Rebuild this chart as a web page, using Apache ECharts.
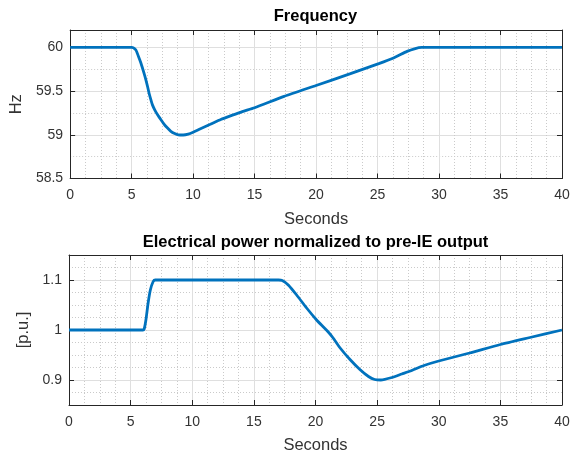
<!DOCTYPE html>
<html>
<head>
<meta charset="utf-8">
<script src="https://cdn.jsdelivr.net/npm/echarts@6/dist/echarts.min.js"></script>
<style>
  html, body { margin: 0; padding: 0; background: #fff; }
  #chart { width: 580px; height: 456px; }
</style>
</head>
<body>
<div id="chart"></div>
<script>
// frequency trace, top subplot (seconds / Hz)
const freqTime = [0, 5.0, 5.15, 5.35, 5.55, 5.76, 6.0, 6.16, 6.3, 6.43, 6.57, 6.7, 6.9, 7.11, 7.4, 7.65, 7.9, 8.19, 8.5, 8.8, 9.2, 9.6, 10.0, 10.6, 11.4, 12.25, 13.2, 14.0, 15.0, 17.4, 20.0, 22.8, 25.1, 26.3, 27.4, 28.0, 28.6, 40];
const freqHz = [60, 60, 59.995, 59.97, 59.9, 59.82, 59.71, 59.63, 59.55, 59.47, 59.4, 59.34, 59.28, 59.23, 59.17, 59.12, 59.08, 59.04, 59.015, 59.0, 58.998, 59.008, 59.03, 59.07, 59.12, 59.175, 59.225, 59.265, 59.31, 59.44, 59.565, 59.7, 59.815, 59.88, 59.955, 59.985, 60, 60];

// electrical power trace, bottom subplot (seconds / p.u.)
const powerTime = [0, 6.0, 6.1, 6.24, 6.42, 6.6, 6.83, 7.0, 17.0, 17.3, 17.79, 18.47, 19.28, 20.09, 20.6, 21.0, 21.4, 22.0, 22.8, 23.6, 24.3, 24.8, 25.3, 26.2, 27.0, 27.7, 28.8, 30.0, 32.5, 35.0, 37.4, 40];
const powerPu = [1, 1, 1.002, 1.02, 1.054, 1.08, 1.097, 1.1, 1.1, 1.099, 1.09, 1.07, 1.044, 1.02, 1.007, 0.997, 0.985, 0.964, 0.941, 0.921, 0.907, 0.901, 0.9, 0.905, 0.912, 0.918, 0.929, 0.938, 0.954, 0.971, 0.985, 1.0];

// tick labels
const freqTicks = [58.5, 59, 59.5, 60];
const powerTicks = [0.9, 1, 1.1];

const LINE = '#0072BD';
const AX = '#262626';
const LABEL = '#333333';
const GRID = '#dfdfdf';
const MINOR = '#cacaca';
const FONT = 'Liberation Sans, Arial, Helvetica, sans-serif';

const chart = echarts.init(document.getElementById('chart'));

function xMain(gridIndex) {
  return {
    type: 'value', gridIndex: gridIndex, position: 'bottom',
    min: 0, max: 40, interval: 5,
    name: 'Seconds', nameLocation: 'middle', nameGap: 32,
    nameTextStyle: { fontFamily: FONT, fontSize: 16.5, color: LABEL },
    axisLine: { show: true, lineStyle: { color: AX, width: 1 } },
    axisTick: { show: true, inside: true, length: 5, lineStyle: { color: AX } },
    axisLabel: { fontFamily: FONT, fontSize: 14, color: LABEL, margin: 10 },
    splitLine: { show: true, lineStyle: { color: GRID, width: 1 } },
    minorTick: { show: false, splitNumber: 4 },
    minorSplitLine: { show: true, lineStyle: { color: MINOR, width: 1, type: [1, 2] } },
    z: 1
  };
}

function xTop(gridIndex) {
  return {
    type: 'value', gridIndex: gridIndex, position: 'top',
    min: 0, max: 40, interval: 5,
    axisLine: { show: true, lineStyle: { color: AX, width: 1 } },
    axisTick: { show: true, inside: true, length: 5, lineStyle: { color: AX } },
    axisLabel: { show: false },
    splitLine: { show: false },
    z: 1
  };
}

function yMinor(gridIndex, min, max, step) {
  return {
    type: 'value', gridIndex: gridIndex, position: 'left',
    min: min, max: max, interval: step,
    axisLine: { show: false }, axisTick: { show: false }, axisLabel: { show: false },
    splitLine: { show: true, lineStyle: { color: MINOR, width: 1, type: [1, 2] } },
    z: 0
  };
}

function yMain(gridIndex, min, max, ticks, name) {
  return {
    type: 'value', gridIndex: gridIndex, position: 'left',
    min: min, max: max,
    name: name, nameLocation: 'middle', nameGap: 33,
    nameTextStyle: { fontFamily: FONT, fontSize: 16.5, color: LABEL },
    axisLine: { show: true, lineStyle: { color: AX, width: 1 } },
    axisTick: { show: true, inside: true, length: 5, customValues: ticks, lineStyle: { color: AX } },
    axisLabel: { fontFamily: FONT, fontSize: 14, color: LABEL, margin: 7, customValues: ticks },
    splitLine: { show: true, lineStyle: { color: GRID, width: 1 } },
    z: 1
  };
}

function yRight(gridIndex, min, max, ticks) {
  return {
    type: 'value', gridIndex: gridIndex, position: 'right',
    min: min, max: max,
    axisLine: { show: true, lineStyle: { color: AX, width: 1 } },
    axisTick: { show: true, inside: true, length: 5, customValues: ticks, lineStyle: { color: AX } },
    axisLabel: { show: false, customValues: ticks },
    splitLine: { show: false },
    z: 1
  };
}

const option = {
  backgroundColor: '#fff',
  animation: false,
  title: [
    { text: 'Frequency', left: 315.5, top: 8, textAlign: 'center', padding: 0,
      textStyle: { fontFamily: FONT, fontSize: 16.5, fontWeight: 'bold', color: '#000' } },
    { text: 'Electrical power normalized to pre-IE output', left: 315.5, top: 234, textAlign: 'center', padding: 0,
      textStyle: { fontFamily: FONT, fontSize: 16.5, fontWeight: 'bold', color: '#000' } }
  ],
  grid: [
    { left: 69, top: 30, width: 493, height: 148.5 },
    { left: 69, top: 255, width: 493, height: 150 }
  ],
  xAxis: [xMain(0), xTop(0), xMain(1), xTop(1)],
  yAxis: [
    yMinor(0, 58.5, 60.2, 0.25),
    yMain(0, 58.5, 60.2, freqTicks, 'Hz'),
    yRight(0, 58.5, 60.2, freqTicks),
    yMinor(1, 0.85, 1.15, 0.025),
    yMain(1, 0.85, 1.15, powerTicks, '[p.u.]'),
    yRight(1, 0.85, 1.15, powerTicks)
  ],
  series: [
    {
      type: 'line', xAxisIndex: 0, yAxisIndex: 1,
      data: freqTime.map((t, i) => [t, freqHz[i]]),
      showSymbol: false, smooth: 0.2,
      lineStyle: { color: LINE, width: 2.8 }, z: 3
    },
    {
      type: 'line', xAxisIndex: 2, yAxisIndex: 4,
      data: powerTime.map((t, i) => [t, powerPu[i]]),
      showSymbol: false, smooth: 0.2,
      lineStyle: { color: LINE, width: 2.8 }, z: 3
    }
  ]
};

chart.setOption(option);
</script>
</body>
</html>
